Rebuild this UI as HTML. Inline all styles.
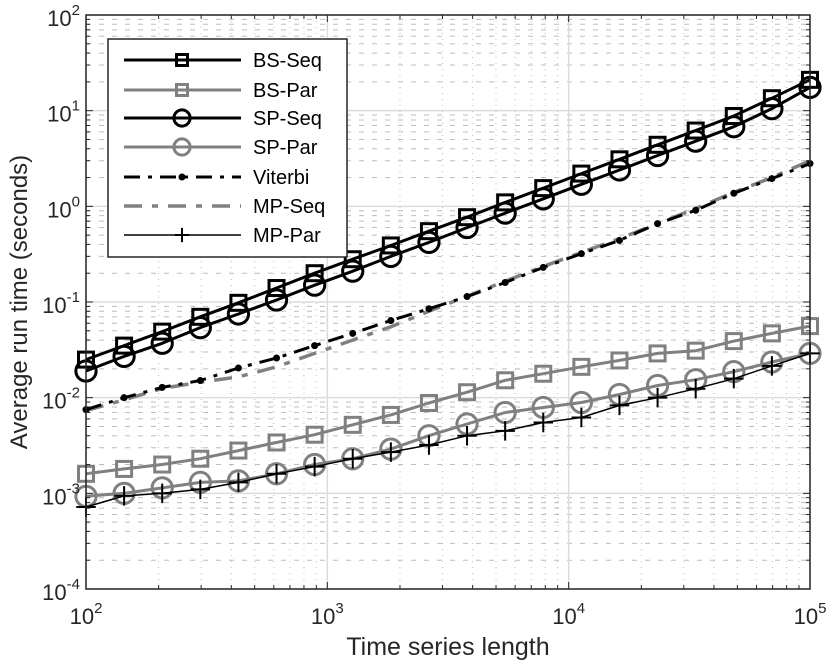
<!DOCTYPE html>
<html><head><meta charset="utf-8"><style>
body{margin:0;background:#fff;}
svg{display:block;font-family:"Liberation Sans",sans-serif;}
</style></head><body>
<svg id="chart" width="830" height="663" viewBox="0 0 830 663">
<g id="grid"></g>
<g id="series"></g>
<g id="axes"></g>
<text x="448" y="655" font-size="25" text-anchor="middle" fill="#262626">Time series length</text>
<text transform="translate(27,302) rotate(-90)" font-size="24" text-anchor="middle" fill="#262626">Average run time (seconds)</text>
<g id="legend"></g>
</svg>
<script>
const nPoints = 20;
const bsSeq = [0.025,0.035,0.049,0.07,0.098,0.14,0.2,0.28,0.39,0.55,0.77,1.1,1.55,2.2,3.1,4.4,6.2,8.8,13.5,21];
const bsPar = [0.0016,0.0018,0.002,0.0023,0.0028,0.0034,0.0041,0.0052,0.0066,0.0088,0.0114,0.0152,0.0178,0.021,0.0245,0.029,0.031,0.039,0.047,0.056];
const spSeq = [0.019,0.027,0.037,0.054,0.075,0.105,0.15,0.21,0.3,0.42,0.6,0.85,1.2,1.7,2.4,3.4,4.8,6.8,10.5,17.5];
const spPar = [0.00093,0.001,0.00114,0.0013,0.00135,0.0016,0.002,0.0023,0.0029,0.004,0.0053,0.007,0.0079,0.0089,0.0108,0.0134,0.0154,0.0187,0.0236,0.029];
const viterbi = [0.0075,0.01,0.0128,0.0151,0.0204,0.026,0.035,0.047,0.064,0.085,0.114,0.16,0.23,0.32,0.44,0.66,0.91,1.37,1.95,2.8];
const mpSeq = [0.0073,0.0095,0.0125,0.0145,0.0165,0.021,0.029,0.04,0.055,0.08,0.115,0.165,0.235,0.33,0.46,0.66,0.95,1.4,2.0,3.0];
const mpPar = [0.00072,0.00094,0.001,0.0011,0.0013,0.0016,0.0019,0.0023,0.0027,0.0032,0.004,0.0045,0.0055,0.0062,0.0083,0.01,0.0124,0.0158,0.0215,0.029];
const xTickExps = [2,3,4,5];
const yTickExps = [-4,-3,-2,-1,0,1,2];
const legendLabels = ["BS-Seq","BS-Par","SP-Seq","SP-Par","Viterbi","MP-Seq","MP-Par"];

const L=86,R=810,T=15,B=589;
const NS="http://www.w3.org/2000/svg";
function xs(v){return L+(Math.log10(v)-2)/3*(R-L);}
function ys(v){return B-(Math.log10(v)+4)/6*(B-T);}
function xVal(k){return Math.pow(10,2+3*k/(nPoints-1));}
function mk(tag,attrs,parent){const e=document.createElementNS(NS,tag);for(const k in attrs)e.setAttribute(k,attrs[k]);parent.appendChild(e);return e;}
const grid=document.getElementById('grid'),ser=document.getElementById('series'),axes=document.getElementById('axes'),leg=document.getElementById('legend');

for(let e=2;e<5;e++)for(let m=2;m<10;m++){const x=xs(m*Math.pow(10,e));
 const l=mk('line',{x1:x,x2:x,y1:T,y2:B,stroke:'#bdbdbd','stroke-width':1,'stroke-dasharray':'1,5'},grid);
 
 }
for(let e=-4;e<2;e++)for(let m=2;m<10;m++){const y=ys(m*Math.pow(10,e));
 const l=mk('line',{x1:L,x2:R,y1:y,y2:y,stroke:'#bdbdbd','stroke-width':1,'stroke-dasharray':'5,8'},grid);
 
 }
xTickExps.forEach(e=>{const x=xs(Math.pow(10,e));
 const l=mk('line',{x1:x,x2:x,y1:T,y2:B,stroke:'#dcdcdc','stroke-width':1.5},grid);
 
 
 const t=mk('text',{x:x,y:624,'font-size':22,'text-anchor':'middle',fill:'#262626'},axes);
 t.textContent='10';
 
 
 const s=mk('tspan',{dy:-11,'font-size':15},t);s.textContent=String(e);});
yTickExps.forEach(e=>{const y=ys(Math.pow(10,e));
 const l=mk('line',{x1:L,x2:R,y1:y,y2:y,stroke:'#dcdcdc','stroke-width':1.5},grid);
 
 
 const t=mk('text',{x:80,y:y+11,'font-size':22,'text-anchor':'end',fill:'#262626'},axes);
 t.textContent='10';
 
 
 const s=mk('tspan',{dy:-11,'font-size':15},t);s.textContent=String(e);});
const box=mk('rect',{x:L,y:T,width:R-L,height:B-T,fill:'none',stroke:'#262626','stroke-width':1.5},axes);


for(let e=2;e<5;e++)for(let m=1;m<10;m++){const x=xs(m*Math.pow(10,e));const len=m==1?7:4;
 mk('line',{x1:x,x2:x,y1:B,y2:B-len,stroke:'#262626'},axes);mk('line',{x1:x,x2:x,y1:T,y2:T+len,stroke:'#262626'},axes);}
for(let e=-4;e<2;e++)for(let m=1;m<10;m++){const y=ys(m*Math.pow(10,e));const len=m==1?7:4;
 mk('line',{x1:L,x2:L+len,y1:y,y2:y,stroke:'#262626'},axes);mk('line',{x1:R,x2:R-len,y1:y,y2:y,stroke:'#262626'},axes);}

const G='#808080';
const styles=[
 {name:'bs-seq',data:bsSeq,color:'#000',w:3,marker:'square'},
 {name:'bs-par',data:bsPar,color:G,w:3,marker:'square'},
 {name:'sp-seq',data:spSeq,color:'#000',w:3,marker:'circle'},
 {name:'sp-par',data:spPar,color:G,w:3,marker:'circle'},
 {name:'viterbi',data:viterbi,color:'#000',w:3,dash:'16,8,4,8',marker:'dot'},
 {name:'mp-seq',data:mpSeq,color:G,w:3.5,dash:'18,10,6,10',marker:null},
 {name:'mp-par',data:mpPar,color:'#000',w:1.5,marker:'plus'}];
function drawMarker(type,x,y,color,parent,sz){
 let el;
 if(type==='square') el=mk('rect',{x:x-sz,y:y-sz,width:2*sz,height:2*sz,fill:'none',stroke:color,'stroke-width':3},parent);
 else if(type==='circle') el=mk('circle',{cx:x,cy:y,r:sz*1.35,fill:'none',stroke:color,'stroke-width':3},parent);
 else if(type==='dot') el=mk('circle',{cx:x,cy:y,r:3.5,fill:color},parent);
 else if(type==='plus') el=mk('path',{d:`M${x-sz*1.3} ${y}H${x+sz*1.3}M${x} ${y-sz*1.3}V${y+sz*1.3}`,stroke:color,'stroke-width':2,fill:'none'},parent);
 return el;}
[3,1,6,5,4,2,0].forEach(i=>{const s=styles[i];
 const g=mk('g',{},ser);
 
 
 const pts=s.data.map((v,k)=>xs(xVal(k)).toFixed(1)+','+ys(v).toFixed(1)).join(' ');
 const pl=mk('polyline',{points:pts,fill:'none',stroke:s.color,'stroke-width':s.w,'stroke-dasharray':s.dash||'none','stroke-linejoin':'round'},g);
 
 
 if(s.marker)s.data.forEach((v,k)=>{const m=drawMarker(s.marker,xs(xVal(k)),ys(v),s.color,g,7.5);
  
  });
});
const lb=mk('rect',{x:108,y:39,width:239,height:218,fill:'#fff',stroke:'#262626','stroke-width':1.5},leg);


const rowsY=[60,90,118,147,177,206,235];
styles.forEach((s,i)=>{const y=rowsY[i];
 const g=mk('g',{},leg);
 
 
 mk('line',{x1:124,x2:241,y1:y,y2:y,stroke:s.color,'stroke-width':s.w,'stroke-dasharray':s.dash||'none'},g);
 if(s.marker)drawMarker(s.marker,182,y,s.color,g,s.marker==='circle'?6:5.5);
 const t=mk('text',{x:253,y:y+7,'font-size':20,fill:'#000'},g);
 t.textContent=legendLabels[i];});
</script>
</body></html>
